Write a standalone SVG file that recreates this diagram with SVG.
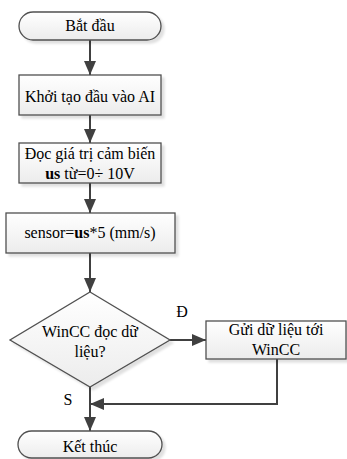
<svg xmlns="http://www.w3.org/2000/svg" width="347" height="459" viewBox="0 0 347 459">
  <defs>
    <linearGradient id="boxFill" x1="0" y1="0" x2="0" y2="1">
      <stop offset="0" stop-color="#ffffff"/>
      <stop offset="1" stop-color="#ececec"/>
    </linearGradient>
    <filter id="shadow" x="-10%" y="-10%" width="130%" height="140%">
      <feDropShadow dx="3" dy="3" stdDeviation="1" flood-color="#000" flood-opacity="0.12"/>
    </filter>
    <marker id="arrow" markerWidth="14" markerHeight="12" refX="14" refY="6" orient="auto" markerUnits="userSpaceOnUse">
      <path d="M0,0 L14,6 L0,12 Z" fill="#404040"/>
    </marker>
  </defs>
  <style>
    .shape { fill: url(#boxFill); stroke: #505050; stroke-width: 1.3; filter: url(#shadow); }
    .lbl { font-family: 'Liberation Serif', 'DejaVu Serif', serif; font-size: 16px; fill: #000; text-anchor: middle; }
    .conn { fill: none; stroke: #404040; stroke-width: 2; }
  </style>

  <!-- connectors -->
  <g id="connectors">
    <line class="conn" x1="90" y1="40" x2="90" y2="75" marker-end="url(#arrow)"/>
    <line class="conn" x1="90" y1="115" x2="90" y2="143" marker-end="url(#arrow)"/>
    <line class="conn" x1="90" y1="183" x2="90" y2="213" marker-end="url(#arrow)"/>
    <line class="conn" x1="90" y1="253" x2="90" y2="292" marker-end="url(#arrow)"/>
    <line class="conn" x1="170" y1="340" x2="206" y2="340" marker-end="url(#arrow)"/>
    <polyline class="conn" points="277,359 277,404 90,404" marker-end="url(#arrow)"/>
    <line class="conn" x1="90" y1="387" x2="90" y2="431" marker-end="url(#arrow)"/>
    <text class="lbl" x="182" y="317">Đ</text>
    <text class="lbl" x="68" y="405">S</text>
  </g>

  <g id="start">
    <rect class="shape" x="19" y="12" width="142" height="28" rx="14" ry="14"/>
    <text class="lbl" x="90" y="31">Bắt đầu</text>
  </g>

  <g id="init">
    <rect class="shape" x="19" y="75" width="142" height="40"/>
    <text class="lbl" x="90" y="102">Khởi tạo đầu vào AI</text>
  </g>

  <g id="read">
    <rect class="shape" x="19" y="143" width="142" height="40"/>
    <text class="lbl" x="90" y="159">Đọc giá trị cảm biến</text>
    <text class="lbl" x="90" y="179"><tspan font-weight="bold">us</tspan> từ=0÷ 10V</text>
  </g>

  <g id="calc">
    <rect class="shape" x="6" y="213" width="169" height="40"/>
    <text class="lbl" x="90" y="238">sensor=<tspan font-weight="bold">us</tspan>*5 (mm/s)</text>
  </g>

  <g id="decision">
    <polygon class="shape" points="90,292 170,340 90,387 10,340"/>
    <text class="lbl" x="90" y="337">WinCC đọc dữ</text>
    <text class="lbl" x="90" y="357">liệu?</text>
  </g>

  <g id="send">
    <rect class="shape" x="206" y="321" width="140" height="38"/>
    <text class="lbl" x="276" y="335">Gửi dữ liệu tới</text>
    <text class="lbl" x="276" y="355">WinCC</text>
  </g>

  <g id="end">
    <rect class="shape" x="18" y="431" width="144" height="27" rx="13.5" ry="13.5"/>
    <text class="lbl" x="90" y="452">Kết thúc</text>
  </g>
</svg>
